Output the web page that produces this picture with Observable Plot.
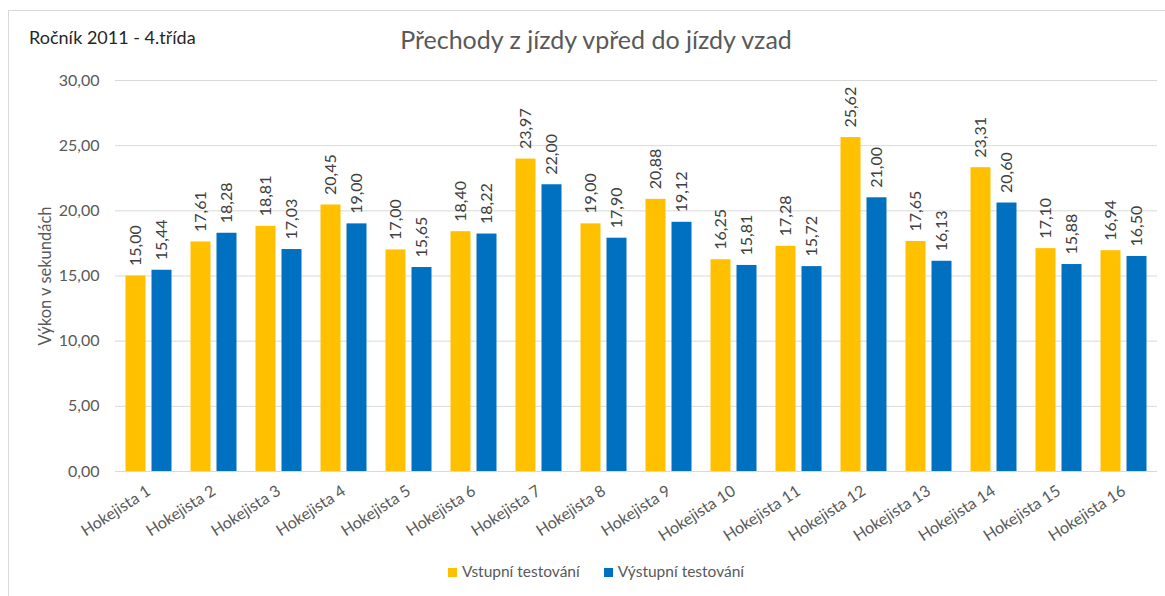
<!DOCTYPE html>
<html><head><meta charset="utf-8">
<script src="https://cdn.jsdelivr.net/npm/d3@7"></script>
<script src="https://cdn.jsdelivr.net/npm/@observablehq/plot@0.6"></script>
<style>
body{margin:0;background:#fff;font-family:Lato,"Open Sans",sans-serif;}
#wrap{position:relative;width:1165px;height:596px;overflow:hidden;background:#fff;}
#frame{position:absolute;left:8px;top:10px;width:1200px;height:700px;border-top:1px solid #d9d9d9;border-left:1px solid #d9d9d9;}
#chart{position:absolute;left:0;top:0;}
#title{position:absolute;left:0;width:1192px;top:24px;text-align:center;font-size:25px;color:#595959;}
#sub{position:absolute;left:29px;top:26px;font-size:18px;color:#262626;}
#ylab{position:absolute;left:45px;top:276px;transform:translate(-50%,-50%) rotate(-90deg);font-size:16.5px;color:#595959;white-space:nowrap;}
#legend{position:absolute;left:0;width:1192px;top:562px;text-align:center;font-size:15.5px;color:#595959;}
#legend span.sw{display:inline-block;width:9px;height:9px;margin-right:5px;vertical-align:0px;}
#legend .item{margin:0 12px;}
</style></head>
<body>
<div id="wrap">
<div id="frame"></div>
<div id="chart"></div>
<div id="sub">Ročník 2011 - 4.třída</div>
<div id="title">Přechody z jízdy vpřed do jízdy vzad</div>
<div id="ylab">Výkon v sekundách</div>
<div id="legend"></div>
</div>
<script>
const players = ["Hokejista 1","Hokejista 2","Hokejista 3","Hokejista 4","Hokejista 5","Hokejista 6","Hokejista 7","Hokejista 8","Hokejista 9","Hokejista 10","Hokejista 11","Hokejista 12","Hokejista 13","Hokejista 14","Hokejista 15","Hokejista 16"];
const seriesNames = ["Vstupní testování","Výstupní testování"];
const seriesColors = ["#FFC000","#0070C0"];
const vstupni = [15.00,17.61,18.81,20.45,17.00,18.40,23.97,19.00,20.88,16.25,17.28,25.62,17.65,23.31,17.10,16.94];
const vystupni = [15.44,18.28,17.03,19.00,15.65,18.22,22.00,17.90,19.12,15.81,15.72,21.00,16.13,20.60,15.88,16.50];
const yTicks = [0,5,10,15,20,25,30];

const fmt = v => v.toFixed(2).replace(".", ",");
const d1 = players.map((p,i)=>({player:p, value:vstupni[i]}));
const d2 = players.map((p,i)=>({player:p, value:vystupni[i]}));
const off = 13;
const inset = 22.5;
const labelStyle = {fontSize: 16, fill: "#404040", rotate: -90, textAnchor: "start", lineAnchor: "middle"};

const chart = Plot.plot({
  width: 1165,
  height: 596,
  marginTop: 80,
  marginBottom: 125,
  marginLeft: 115,
  marginRight: 8,
  style: {fontFamily: "Lato, 'Open Sans', sans-serif", background: "transparent", color: "#595959"},
  x: {domain: players, padding: 0, label: null, tickSize: 0, tickPadding: 18, tickRotate: -33},
  y: {domain: [0, 30], ticks: yTicks, tickFormat: fmt, label: null, tickSize: 0, tickPadding: 16, grid: false},
  marks: [
    Plot.ruleY(yTicks, {stroke: "#d9d9d9", strokeWidth: 1}),
    Plot.barY(d1, {x: "player", y: "value", fill: seriesColors[0], dx: -off, insetLeft: inset, insetRight: inset}),
    Plot.barY(d2, {x: "player", y: "value", fill: seriesColors[1], dx: off, insetLeft: inset, insetRight: inset}),
    Plot.text(d1, {x: "player", y: "value", text: d => fmt(d.value), dx: -off, dy: -10, ...labelStyle}),
    Plot.text(d2, {x: "player", y: "value", text: d => fmt(d.value), dx: off, dy: -10, ...labelStyle})
  ]
});
chart.querySelectorAll("g[aria-label='x-axis tick label']").forEach(g=>{g.setAttribute("font-size","16");g.setAttribute("fill","#595959");});
chart.querySelectorAll("g[aria-label='y-axis tick label']").forEach(g=>{g.setAttribute("font-size","16");g.setAttribute("fill","#595959");});
document.getElementById("chart").appendChild(chart);

const legend = document.getElementById("legend");
seriesNames.forEach((n,i)=>{
  const s = document.createElement("span"); s.className="item";
  s.innerHTML = `<span class="sw" style="background:${seriesColors[i]}"></span>${n}`;
  legend.appendChild(s);
});
</script>
</body></html>
